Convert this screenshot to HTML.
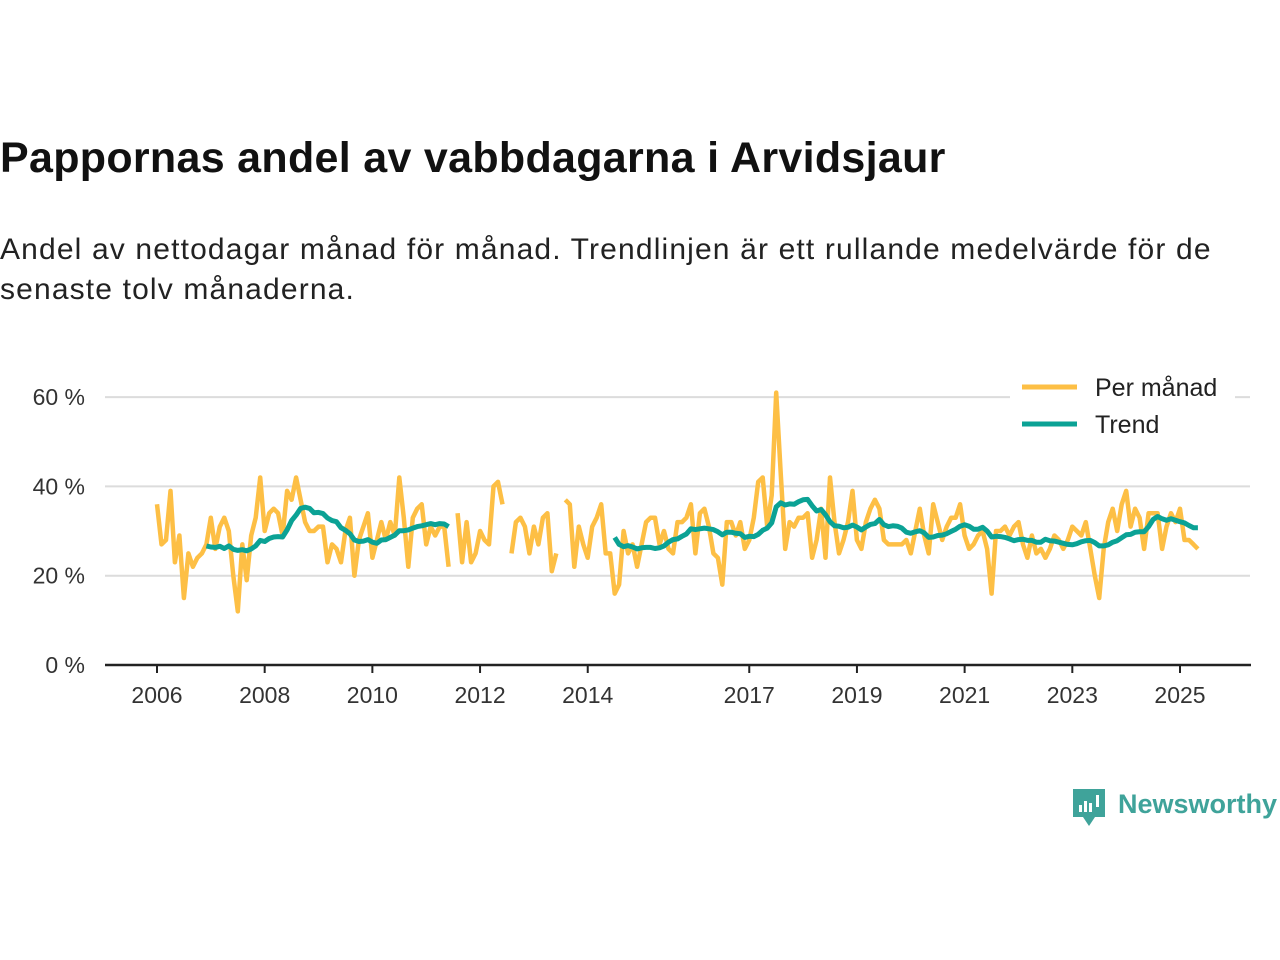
<!DOCTYPE html>
<html><head><meta charset="utf-8"><style>
body{margin:0;background:#fff;width:1280px;height:960px;overflow:hidden;font-family:"Liberation Sans",sans-serif;color:#111}
#title{position:absolute;left:0;top:134px;font-size:43px;font-weight:bold;letter-spacing:0.3px}
#sub{position:absolute;left:0;top:230px;font-size:30px;line-height:40px;color:#222;width:1240px;letter-spacing:1.15px}
svg{position:absolute;left:0;top:0}
</style></head><body>
<div id="title">Pappornas andel av vabbdagarna i Arvidsjaur</div>
<div id="sub">Andel av nettodagar månad för månad. Trendlinjen är ett rullande medelvärde för de senaste tolv månaderna.</div>
<svg id="chart" width="1280" height="960"></svg>
<script>
const segStarts=[0,67,79,91];
const segA=[36,27,28,39,23,29,15,25,22,24,25,27,33,26,31,33,30,20,12,27,19,29,33,42,30,34,35,34,29,39,37,42,37,32,30,30,31,31,23,27,26,23,30,33,20,28,31,34,24,28,32,28,32,29,42,33,22,33,35,36,27,31,29,31,31,22];
const segB=[34,23,32,23,25,30,28,27,40,41,36];
const segC=[25,32,33,31,25,31,27,33,34,21,25];
const segD=[37,36,22,31,27,24,31,33,36,25,25,16,18,30,25,27,22,27,32,33,33,27,30,26,25,32,32,33,36,25,34,35,31,25,24,18,32,32,29,32,26,28,33,41,42,31,38,61,43,26,32,31,33,33,34,24,28,35,24,42,32,25,28,32,39,28,26,32,35,37,35,28,27,27,27,27,28,25,30,35,29,25,36,32,28,31,33,33,36,29,26,27,29,30,26,16,30,30,31,29,31,32,27,24,29,25,26,24,26,29,28,26,28,31,30,29,32,26,20,15,26,32,35,30,36,39,31,35,33,26,34,34,34,26,31,34,32,35,28,28,27,26];
const yTicks=[0,20,40,60];
const xTickYears=[2006,2008,2010,2012,2014,2017,2019,2021,2023,2025];
const NS="http://www.w3.org/2000/svg";
const svg=document.getElementById('chart');
const x=m=>157+m*(1023/228);
const y=v=>665-v*4.465;
function mk(t,a){const e=document.createElementNS(NS,t);for(const k in a)e.setAttribute(k,a[k]);svg.appendChild(e);return e;}
const N=234;const vals=new Array(N).fill(null);
[segA,segB,segC,segD].forEach((s,i)=>s.forEach((v,j)=>{vals[segStarts[i]+j]=v;}));
yTicks.forEach(t=>{
 if(t>0){const g=mk('line',{x1:105,x2:1250,y1:y(t),y2:y(t),stroke:'#dcdcdc','stroke-width':2});
 
 }
 const l=mk('text',{x:85,y:y(t)+8,'text-anchor':'end','font-size':23,fill:'#333','font-family':'Liberation Sans, sans-serif'});
 l.textContent=t+' %';
 
 
});
const ax=mk('line',{x1:105,x2:1251,y1:665,y2:665,stroke:'#222','stroke-width':2.5});


xTickYears.forEach(yr=>{
 const xx=x((yr-2006)*12);
 const tk=mk('line',{x1:xx,x2:xx,y1:665,y2:673,stroke:'#222','stroke-width':2});
 
 
 const l=mk('text',{x:xx,y:703,'text-anchor':'middle','font-size':23,fill:'#333','font-family':'Liberation Sans, sans-serif'});
 l.textContent=yr;
 
 
});
function pathFrom(arr){let d='',pen=false;arr.forEach((v,i)=>{if(v==null){pen=false;return;}d+=(pen?'L':'M')+x(i).toFixed(1)+','+y(v).toFixed(1);pen=true;});return d;}
const p1=mk('path',{d:pathFrom(vals),fill:'none',stroke:'#fdbf45','stroke-width':4.5,'stroke-linejoin':'round'});


const trend=vals.map((v,i)=>{if(i<11)return null;let s=0;for(let k=i-11;k<=i;k++){if(vals[k]==null)return null;s+=vals[k];}return s/12;});
const p2=mk('path',{d:pathFrom(trend),fill:'none',stroke:'#0ba295','stroke-width':5,'stroke-linejoin':'round'});


const lb=mk('rect',{x:1010,y:368,width:225,height:75,fill:'#fff'});


[['Per månad','#fdbf45',387],['Trend','#0ba295',424]].forEach(([t,c,yy])=>{
 const ln=mk('line',{x1:1022,x2:1077,y1:yy,y2:yy,stroke:c,'stroke-width':5});
 
 
 const tx=mk('text',{x:1095,y:yy+9,'font-size':25,fill:'#222','font-family':'Liberation Sans, sans-serif'});
 tx.textContent=t;
 
 
});
</script>
<svg width="1280" height="960" style="pointer-events:none">
<path d="M1073 789h32v28h-10l-6 9-6-9h-10z" fill="#3fa39a"/>
<rect x="1079" y="805" width="3" height="7" fill="#fff"/><rect x="1084" y="801" width="3" height="11" fill="#fff"/><rect x="1089" y="803" width="3" height="9" fill="#fff"/><rect x="1096" y="795" width="3" height="12" fill="#fff"/>
<text x="1118" y="813" font-size="27" font-weight="bold" fill="#3fa39a" font-family="Liberation Sans, sans-serif">Newsworthy</text>
</svg>
</body></html>
